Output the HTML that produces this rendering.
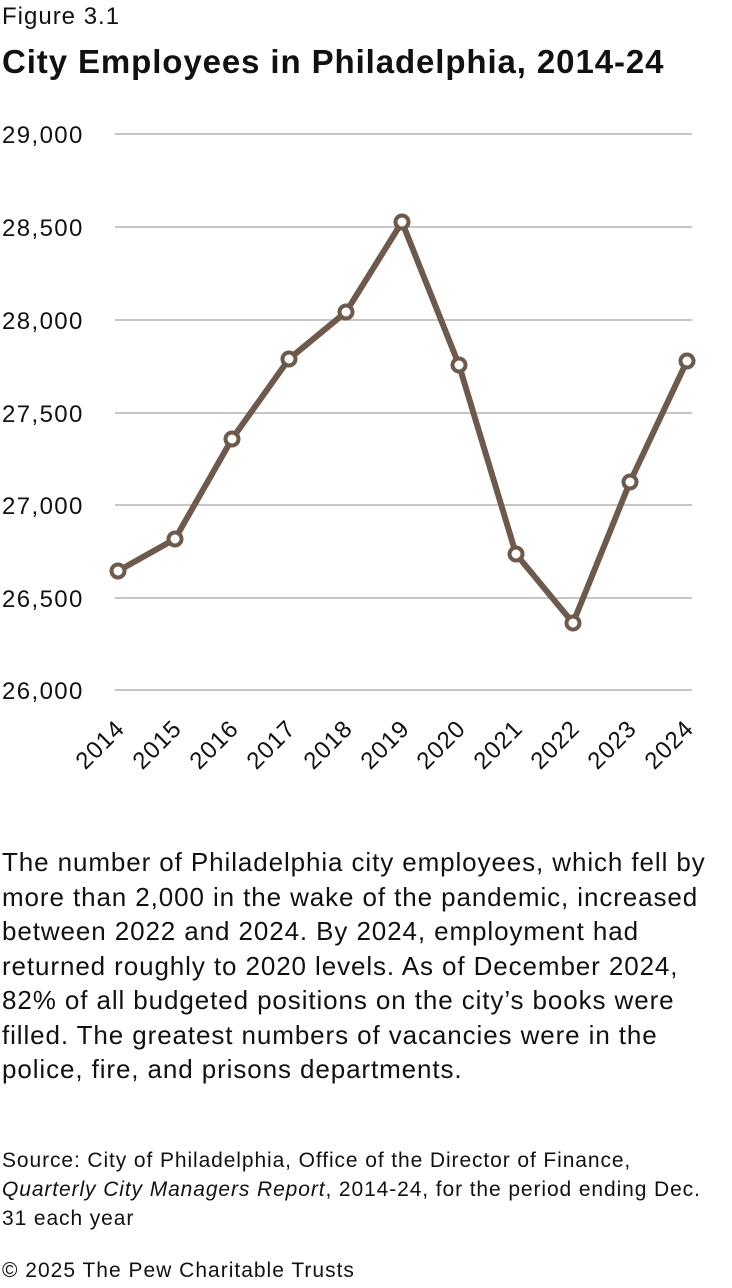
<!DOCTYPE html>
<html><head><meta charset="utf-8"><style>
body{margin:0;width:732px;height:1288px;background:#fff;font-family:"Liberation Sans",sans-serif;color:#111;position:relative;overflow:hidden}
.t{position:absolute;left:2px;white-space:nowrap}
</style></head><body>
<div class="t" style="top:3px;font-size:24px;letter-spacing:1px">Figure 3.1</div>
<div class="t" style="top:43px;font-size:33px;font-weight:bold;letter-spacing:0.9px">City Employees in Philadelphia, 2014-24</div>
<svg style="position:absolute;left:0;top:0" width="732" height="800">
<g stroke="#b3b3b3" stroke-width="1.5">
<line x1="115" x2="692" y1="134" y2="134"/><line x1="115" x2="692" y1="227" y2="227"/><line x1="115" x2="692" y1="320" y2="320"/><line x1="115" x2="692" y1="413" y2="413"/><line x1="115" x2="692" y1="505" y2="505"/><line x1="115" x2="692" y1="598" y2="598"/><line x1="115" x2="692" y1="690" y2="690"/>
</g>
<g font-family="Liberation Sans" font-size="24" fill="#111" letter-spacing="1.4">
<text x="2" y="143">29,000</text><text x="2" y="236">28,500</text><text x="2" y="329">28,000</text><text x="2" y="422">27,500</text><text x="2" y="514">27,000</text><text x="2" y="607">26,500</text><text x="2" y="699">26,000</text>
</g>
<g font-family="Liberation Sans" font-size="24" fill="#111" text-anchor="end" letter-spacing="1">
<text transform="translate(126,730) rotate(-45)">2014</text>
<text transform="translate(183,730) rotate(-45)">2015</text>
<text transform="translate(240,730) rotate(-45)">2016</text>
<text transform="translate(297,730) rotate(-45)">2017</text>
<text transform="translate(354,730) rotate(-45)">2018</text>
<text transform="translate(411,730) rotate(-45)">2019</text>
<text transform="translate(467,730) rotate(-45)">2020</text>
<text transform="translate(524,730) rotate(-45)">2021</text>
<text transform="translate(581,730) rotate(-45)">2022</text>
<text transform="translate(638,730) rotate(-45)">2023</text>
<text transform="translate(695,730) rotate(-45)">2024</text>
</g>
<polyline fill="none" stroke="#6e5a4c" stroke-width="6" stroke-linejoin="round" points="118,571 175,539 232,439 289,359 346,312 402,222 459,365 516,554 573,623 630,482 687,361"/>
<g fill="#fff" stroke="#6e5a4c" stroke-width="4">
<circle cx="118" cy="571" r="6.5"/><circle cx="175" cy="539" r="6.5"/><circle cx="232" cy="439" r="6.5"/><circle cx="289" cy="359" r="6.5"/><circle cx="346" cy="312" r="6.5"/><circle cx="402" cy="222" r="6.5"/><circle cx="459" cy="365" r="6.5"/><circle cx="516" cy="554" r="6.5"/><circle cx="573" cy="623" r="6.5"/><circle cx="630" cy="482" r="6.5"/><circle cx="687" cy="361" r="6.5"/>
</g>
</svg>
<div style="position:absolute;left:2px;top:845px;white-space:nowrap;font-size:26px;letter-spacing:0.9px;line-height:34.5px">The number of Philadelphia city employees, which fell by<br>more than 2,000 in the wake of the pandemic, increased<br>between 2022 and 2024. By 2024, employment had<br>returned roughly to 2020 levels. As of December 2024,<br>82% of all budgeted positions on the city’s books were<br>filled. The greatest numbers of vacancies were in the<br>police, fire, and prisons departments.</div>
<div style="position:absolute;left:2px;top:1146px;white-space:nowrap;font-size:21px;letter-spacing:0.9px;line-height:29px">Source: City of Philadelphia, Office of the Director of Finance,<br><i>Quarterly City Managers Report</i>, 2014-24, for the period ending Dec.<br>31 each year</div>
<div class="t" style="top:1259px;font-size:21px;letter-spacing:1px">© 2025 The Pew Charitable Trusts</div>
</body></html>
